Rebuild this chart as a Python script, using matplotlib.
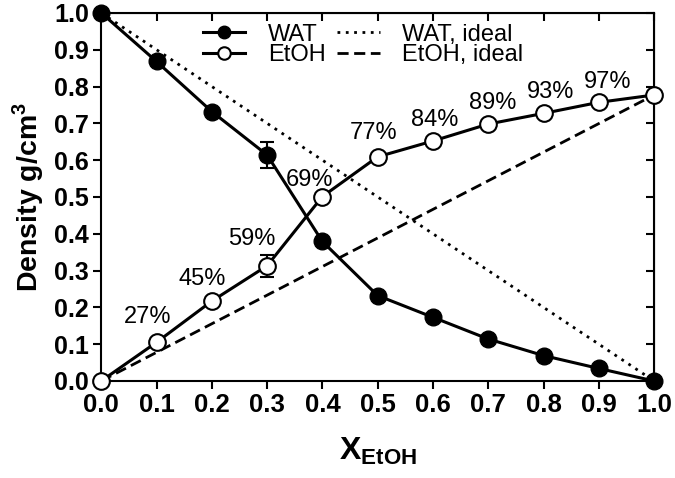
import matplotlib
matplotlib.use('Agg')
import matplotlib.pyplot as plt

x_etoh = [0.0, 0.1, 0.2, 0.3, 0.4, 0.5, 0.6, 0.7, 0.8, 0.9, 1.0]
wat = [1.0, 0.868, 0.732, 0.614, 0.379, 0.232, 0.173, 0.114, 0.069, 0.034, 0.0]
wat_err = [0, 0, 0, 0.036, 0, 0, 0, 0, 0, 0, 0]
etoh = [0.0, 0.105, 0.217, 0.313, 0.501, 0.609, 0.652, 0.698, 0.727, 0.757, 0.777]
etoh_err = [0, 0, 0, 0.03, 0, 0, 0, 0, 0, 0, 0]
pct_labels = ['27%', '45%', '59%', '69%', '77%', '84%', '89%', '93%', '97%']

plt.rcParams['font.family'] = ['Liberation Sans', 'DejaVu Sans']
plt.rcParams['mathtext.fontset'] = 'custom'
plt.rcParams['mathtext.rm'] = 'Liberation Sans'
plt.rcParams['mathtext.bf'] = 'Liberation Sans:bold'

fig = plt.figure(figsize=(6.75, 4.78), dpi=100)
ax = fig.add_axes([0.150, 0.203, 0.819, 0.770])

# ideal mixing lines
ax.plot([x_etoh[0], x_etoh[-1]], [wat[0], wat[-1]], color='black', lw=2.0,
        linestyle=(0, (1, 2)), label='WAT, ideal')
ax.plot([x_etoh[0], x_etoh[-1]], [etoh[0], etoh[-1]], color='black', lw=2.0,
        linestyle=(0, (4, 2)), label='EtOH, ideal')

ax.errorbar(x_etoh, wat, yerr=wat_err, fmt='none', ecolor='black', capsize=5,
            elinewidth=1.5, capthick=1.5, zorder=2)
ax.errorbar(x_etoh, etoh, yerr=etoh_err, fmt='none', ecolor='black', capsize=5,
            elinewidth=1.5, capthick=1.5, zorder=2)
ax.plot(x_etoh, wat, color='black', lw=2.2, marker='o', ms=12, mfc='black',
        mec='black', label='WAT', clip_on=False, zorder=3)
ax.plot(x_etoh, etoh, color='black', lw=2.2, marker='o', ms=12, mfc='white',
        mec='black', mew=1.5, label='EtOH', clip_on=False, zorder=4)

offsets = [(-6.5, 18), (-7, 16), (-11, 19.5), (-9, 12), (-3, 17),
           (1.5, 15), (3.5, 15), (5, 15.5), (6.5, 15)]
for xi, yi, lab, off in zip(x_etoh[1:10], etoh[1:10], pct_labels, offsets):
    ax.annotate(lab, (xi, yi), xytext=off, textcoords='offset points',
                ha='center', va='center', fontsize=17)

ax.set_xlim(0, 1)
ax.set_ylim(0, 1)
ticks = [i / 10 for i in range(11)]
ax.set_xticks(ticks)
ax.set_yticks(ticks)
ax.set_xticklabels([f'{t:.1f}' for t in ticks], fontsize=18.5, fontweight='bold')
ax.set_yticklabels([f'{t:.1f}' for t in ticks], fontsize=18, fontweight='bold')
ax.tick_params(axis='both', direction='out', length=6, width=1.5, pad=3)
for s in ax.spines.values():
    s.set_linewidth(1.5)

# inward ticks on the top and right
axt = ax.secondary_xaxis('top')
axt.set_xticks(ticks)
axt.tick_params(direction='in', length=6, width=1.5, labeltop=False)
axr = ax.secondary_yaxis('right')
axr.set_yticks(ticks)
axr.tick_params(direction='in', length=6, width=1.5, labelright=False)

ax.set_xlabel(r'$\mathbf{X_{EtOH}}$', fontsize=23, labelpad=13)
ax.set_ylabel(r'Density g/cm$^\mathbf{3}$', fontsize=20.5, fontweight='bold', labelpad=6)

h, l = ax.get_legend_handles_labels()
order = [2, 3, 0, 1]
ax.legend([h[i] for i in order], [l[i] for i in order], ncol=2, frameon=False,
          fontsize=17, loc='center left', bbox_to_anchor=(0.184, 0.913),
          borderpad=0, borderaxespad=0, markerscale=0.75,
          handlelength=1.8, columnspacing=0.5, handletextpad=0.95, labelspacing=-0.05)

fig.savefig('out.png', dpi=100)
